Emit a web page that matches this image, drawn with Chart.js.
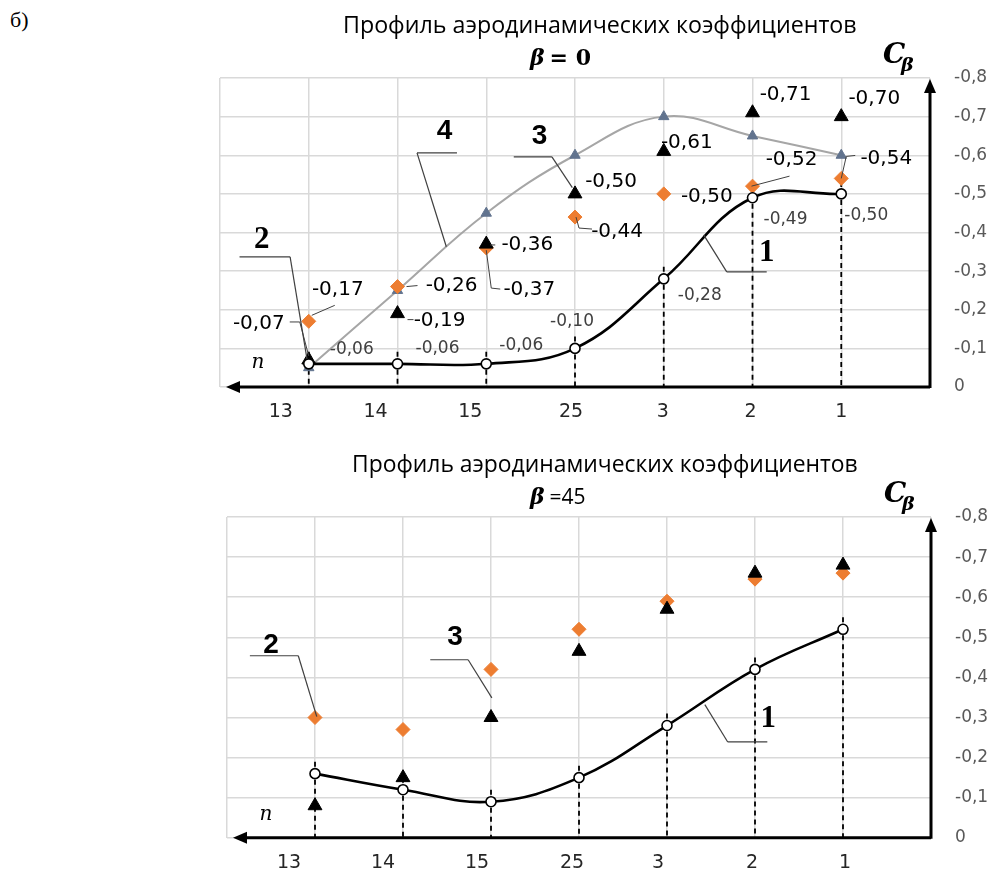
<!DOCTYPE html>
<html>
<head>
<meta charset="utf-8">
<script src="https://cdn.jsdelivr.net/npm/chart.js@4.4.0/dist/chart.umd.min.js"></script>
<style>
  html, body { margin: 0; padding: 0; background: #fff; }
  #wrap { position: relative; width: 992px; height: 872px; overflow: hidden; }
  #wrap canvas { position: absolute; left: 0; }
  #c1 { top: 0; }
  #c2 { top: 436px; }
  #tag { position: absolute; left: 10px; top: 7px; font: 22px "Liberation Serif", serif; color: #000; }
</style>
</head>
<body>
<div id="wrap">
  <div id="tag">б)</div>
  <canvas id="c1" width="992" height="436"></canvas>
  <canvas id="c2" width="992" height="436"></canvas>
</div>
<script>
// ── Data ─────────────────────────────────────────────────────────────────────
const categories = ['13', '14', '15', '25', '3', '2', '1'];
const yTicks = [0, -0.1, -0.2, -0.3, -0.4, -0.5, -0.6, -0.7, -0.8];

// β = 0
const top1 = [-0.06, -0.06, -0.06, -0.10, -0.28, -0.49, -0.50];
const top2 = [-0.17, -0.26, -0.36, -0.44, -0.50, -0.52, -0.54];
const top3 = [-0.07, -0.19, -0.37, -0.50, -0.61, -0.71, -0.70];
const top4 = [-0.05, -0.25, -0.45, -0.60, -0.70, -0.65, -0.60];

// β = 45
const bot1 = [-0.16, -0.12, -0.09, -0.15, -0.28, -0.42, -0.52];
const bot2 = [-0.30, -0.27, -0.42, -0.52, -0.59, -0.645, -0.66];
const bot3 = [-0.08, -0.15, -0.30, -0.465, -0.57, -0.66, -0.68];

const TITLE = 'Профиль аэродинамических коэффициентов';
const fmt = v => v.toFixed(2).replace('.', ',');
const pts = arr => arr.map((v, i) => ({ x: i + 1, y: v }));

// ── Helpers ──────────────────────────────────────────────────────────────────
function arrow(ctx, x, y, dx, dy) {
  // filled arrowhead, tip at (x,y), pointing along (dx,dy)
  const L = 14, W = 6;
  const bx = x - dx * L, by = y - dy * L;
  ctx.beginPath();
  ctx.moveTo(x, y);
  ctx.lineTo(bx - dy * W, by + dx * W);
  ctx.lineTo(bx + dy * W, by - dx * W);
  ctx.closePath();
  ctx.fill();
}

function fitText(ctx, text, family, width) {
  ctx.font = `20px ${family}`;
  return 20 * width / ctx.measureText(text).width;
}

const decor = {
  id: 'decor',
  beforeDatasetsDraw(chart, args, o) {
    const { ctx, chartArea: a, scales: { x, y } } = chart;
    ctx.save();
    // dashed drop lines under series 1
    ctx.strokeStyle = '#000';
    ctx.lineWidth = 1.8;
    ctx.setLineDash([5, 4]);
    chart.data.datasets[0].data.forEach(p => {
      const px = x.getPixelForValue(p.x);
      ctx.beginPath();
      ctx.moveTo(px, y.getPixelForValue(p.y) - 12);
      ctx.lineTo(px, a.bottom);
      ctx.stroke();
    });
    ctx.setLineDash([]);
    // axes with arrows
    ctx.lineWidth = 3;
    ctx.fillStyle = '#000';
    ctx.beginPath();
    ctx.moveTo(a.right, a.bottom);
    ctx.lineTo(a.left + 14, a.bottom);
    ctx.stroke();
    arrow(ctx, a.left + 6, a.bottom, -1, 0);
    ctx.beginPath();
    ctx.moveTo(a.right, a.bottom + 1);
    ctx.lineTo(a.right, a.top + 10);
    ctx.stroke();
    arrow(ctx, a.right, a.top + 1, 0, -1);
    ctx.restore();
  },
  afterDatasetsDraw(chart, args, o) {
    const { ctx } = chart;
    ctx.save();
    // leader lines of value labels
    ctx.strokeStyle = '#404040';
    ctx.lineWidth = 1;
    (o.leaders || []).forEach(l => {
      const p = chart.getDatasetMeta(l.ds).data[l.i];
      ctx.beginPath();
      l.pts.forEach(([dx, dy], k) => k ? ctx.lineTo(p.x + dx, p.y + dy) : ctx.moveTo(p.x + dx, p.y + dy));
      ctx.stroke();
    });
    // value labels
    ctx.textAlign = 'center';
    ctx.textBaseline = 'middle';
    (o.labels || []).forEach(L => {
      const meta = chart.getDatasetMeta(L.ds);
      ctx.font = L.font;
      ctx.fillStyle = L.color;
      chart.data.datasets[L.ds].data.forEach((d, i) => {
        const p = meta.data[i];
        ctx.fillText(fmt(d.y), p.x + L.off[i][0], p.y + L.off[i][1]);
      });
    });
    ctx.restore();
  },
  afterDraw(chart, args, o) {
    const { ctx, chartArea: a, scales: { x, y } } = chart;
    ctx.save();
    // category labels (shifted the way the original sheet has them)
    ctx.font = '19px "DejaVu Sans", sans-serif';
    ctx.fillStyle = '#262626';
    ctx.textAlign = 'center';
    ctx.textBaseline = 'middle';
    categories.forEach((c, i) => ctx.fillText(c, x.getPixelForValue(i + 1) + o.labShift[i], a.bottom + 25));

    // title
    const fam = '"Open Sans", sans-serif';
    ctx.font = `${fitText(ctx, TITLE, fam, o.titleW)}px ${fam}`;
    ctx.fillStyle = '#000';
    ctx.textAlign = 'left';
    ctx.textBaseline = 'alphabetic';
    ctx.fillText(TITLE, o.titleX, o.titleY);

    // β line
    ctx.font = 'bold italic 22px "DejaVu Serif", serif';
    ctx.fillText('β', o.betaX, o.betaY);
    const bw = ctx.measureText('β').width;
    ctx.font = o.betaFont;
    ctx.fillText(o.betaRest, o.betaX + bw + 5, o.betaY);

    // C_β
    ctx.font = 'bold italic 28px "DejaVu Serif", serif';
    ctx.fillText('C', a.right - 47, a.top - 15);
    ctx.font = 'bold italic 19px "DejaVu Serif", serif';
    ctx.fillText('β', a.right - 29, a.top - 7);

    // n
    ctx.font = 'italic 20px "DejaVu Serif", serif';
    ctx.textAlign = 'center';
    ctx.textBaseline = 'middle';
    ctx.fillText('n', a.left + o.nDx, a.bottom - o.nDy);

    // numbered callouts
    o.callouts.forEach(c => {
      const ux1 = x.getPixelForValue(c.u[0]), ux2 = x.getPixelForValue(c.u[1]);
      const uy = y.getPixelForValue(c.uy);
      const sx = c.fromLeft ? ux1 : ux2;
      ctx.strokeStyle = '#404040';
      ctx.lineWidth = 1.2;
      ctx.beginPath();
      ctx.moveTo(ux2, uy);
      ctx.lineTo(ux1, uy);
      ctx.stroke();
      ctx.beginPath();
      ctx.moveTo(sx, uy);
      ctx.lineTo(x.getPixelForValue(c.to[0]), y.getPixelForValue(c.to[1]));
      ctx.stroke();
      ctx.font = c.serif ? 'bold 31px "Liberation Serif", serif' : 'bold 28px "Liberation Sans", sans-serif';
      ctx.fillStyle = '#000';
      ctx.fillText(c.t, x.getPixelForValue(c.tx), y.getPixelForValue(c.ty));
    });
    ctx.restore();
  }
};

function makeSets(s1, s2, s3, s4) {
  const sets = [
    { data: pts(s1), borderColor: '#000', borderWidth: 2.6, tension: 0.4,
      pointStyle: 'circle', pointRadius: 5, pointBackgroundColor: '#fff', pointBorderColor: '#000', pointBorderWidth: 1.6 },
    { data: pts(s3), showLine: false, pointStyle: 'triangle', pointRadius: 8,
      pointBackgroundColor: '#000', pointBorderColor: '#000', pointBorderWidth: 1 },
    { data: pts(s2), showLine: false, pointStyle: 'rectRot', pointRadius: 7,
      pointBackgroundColor: '#ed7d31', pointBorderColor: '#ed7d31', pointBorderWidth: 1 },
  ];
  if (s4) sets.push({ data: pts(s4), borderColor: '#a6a6a6', borderWidth: 2, tension: 0.4,
    pointStyle: 'triangle', pointRadius: 6, pointBackgroundColor: '#61738e', pointBorderColor: '#61738e', pointBorderWidth: 1 });
  return sets;
}

function makeChart(id, sets, pad, xh, yw, decorOpts) {
  return new Chart(document.getElementById(id), {
    type: 'line',
    data: { datasets: sets },
    options: {
      responsive: false, animation: false, devicePixelRatio: 1,
      layout: { padding: { left: pad.left, top: pad.top, right: 0, bottom: 0 } },
      plugins: { legend: { display: false }, tooltip: { enabled: false }, decor: decorOpts },
      scales: {
        x: {
          type: 'linear', min: 0, max: categories.length + 1,
          afterBuildTicks: s => { s.ticks = [0, 1, 2, 3, 4, 5, 6, 7, 8].map(v => ({ value: v })); },
          afterFit: s => { s.height = xh; },
          grid: { color: '#d9d9d9', lineWidth: 1.5, drawTicks: false },
          border: { display: false },
          ticks: { display: false }
        },
        y: {
          type: 'linear', position: 'right', reverse: true, min: -0.8, max: 0,
          afterBuildTicks: s => { s.ticks = yTicks.map(v => ({ value: v })); },
          afterFit: s => { s.width = yw; },
          grid: { color: '#d9d9d9', lineWidth: 1.5, drawTicks: false },
          border: { display: false },
          ticks: { padding: 24, color: '#595959', font: { family: '"DejaVu Sans"', size: 17 },
                   callback: v => v === 0 ? '0' : (Math.round(v * 10) / 10).toFixed(1).replace('.', ',') }
        }
      }
    },
    plugins: [decor]
  });
}

// ── Chart β = 0 ──────────────────────────────────────────────────────────────
makeChart('c1', makeSets(top1, top2, top3, top4), { left: 220, top: 78 }, 49, 62, {
  titleX: 343, titleY: 33, titleW: 514,
  betaX: 530, betaY: 65, betaRest: '= 0', betaFont: 'bold 22px "DejaVu Serif", serif',
  nDx: 38, nDy: 24,
  labShift: [-28, -22, -16, -4, -1, -2, 0],
  labels: [
    { ds: 0, font: '17px "DejaVu Sans"', color: '#404040',
      off: [[43, -14], [40, -15], [35, -18], [-3, -27], [36, 17], [33, 22], [25, 22]] },
    { ds: 2, font: '20px "DejaVu Sans"', color: '#000',
      off: [[29, -32], [54, -1], [41, -3], [42, 15], [43, 3], [39, -26], [45, -20]] },
    { ds: 1, font: '20px "DejaVu Sans"', color: '#000',
      off: [[-50, -36], [42, 7], [43, 46], [36, -12], [23, -9], [33, -18], [33, -18]] }
  ],
  leaders: [
    { ds: 2, i: 0, pts: [[3, -6], [26, -16]] },
    { ds: 2, i: 1, pts: [[9, 0], [20, -1]] },
    { ds: 2, i: 2, pts: [[4, -3], [9, -3]] },
    { ds: 2, i: 3, pts: [[1, 0], [4, 11], [17, 12]] },
    { ds: 2, i: 5, pts: [[-1, 0], [37, -10]] },
    { ds: 2, i: 6, pts: [[0, 0], [5, -22], [14, -23]] },
    { ds: 1, i: 0, pts: [[0, -4], [-9, -38], [-19, -38]] },
    { ds: 1, i: 1, pts: [[10, 6], [16, 6]] },
    { ds: 1, i: 2, pts: [[0, 6], [5, 44], [14, 45]] }
  ],
  callouts: [
    { t: '2', serif: true, tx: 0.47, ty: -0.381, u: [0.22, 0.79], uy: -0.337, fromLeft: false, to: [0.98, -0.073] },
    { t: '4', serif: false, tx: 2.53, ty: -0.661, u: [2.22, 2.67], uy: -0.606, fromLeft: true, to: [2.55, -0.363] },
    { t: '3', serif: false, tx: 3.6, ty: -0.650, u: [3.31, 3.74], uy: -0.596, fromLeft: false, to: [3.97, -0.516] },
    { t: '1', serif: true, tx: 6.16, ty: -0.347, u: [5.71, 6.16], uy: -0.298, fromLeft: true, to: [5.45, -0.394] }
  ]
});

// ── Chart β = 45 ─────────────────────────────────────────────────────────────
makeChart('c2', makeSets(bot1, bot2, bot3, null), { left: 227, top: 81 }, 34, 61, {
  titleX: 352, titleY: 36, titleW: 506,
  betaX: 530, betaY: 68, betaRest: '=45', betaFont: '21px "Open Sans", sans-serif',
  nDx: 39, nDy: 23,
  labShift: [-26, -20, -14, -7, -9, -3, 2],
  labels: [],
  leaders: [],
  callouts: [
    { t: '2', serif: false, tx: 0.5, ty: -0.481, u: [0.26, 0.81], uy: -0.454, fromLeft: false, to: [1.02, -0.302] },
    { t: '3', serif: false, tx: 2.59, ty: -0.501, u: [2.31, 2.74], uy: -0.444, fromLeft: false, to: [3.01, -0.349] },
    { t: '1', serif: true, tx: 6.15, ty: -0.297, u: [5.69, 6.14], uy: -0.239, fromLeft: true, to: [5.43, -0.332] }
  ]
});
</script>
</body>
</html>
